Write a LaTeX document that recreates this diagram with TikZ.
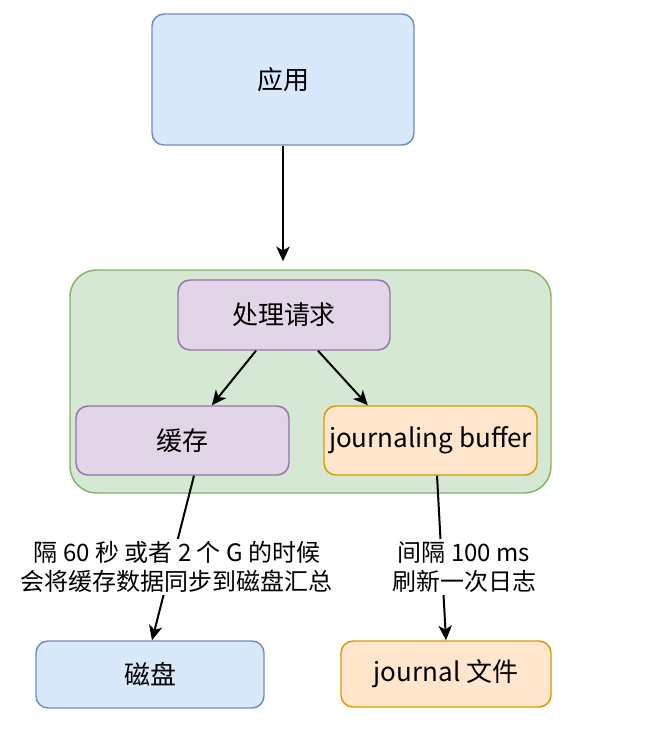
\documentclass[tikz,border=0pt]{standalone}
\usepackage{fontspec}
\setmainfont{Noto Sans CJK SC}
\usetikzlibrary{arrows.meta}

\tikzset{every picture/.style={line width=1.1pt}}
\tikzset{
  box/.style={rounded corners=9pt, align=center, font=\fontsize{19.5}{23}\selectfont, inner sep=0pt},
  bluebox/.style={box, draw={rgb, 255:red, 108; green, 142; blue, 191 }, fill={rgb, 255:red, 218; green, 232; blue, 252 }},
  purplebox/.style={box, draw={rgb, 255:red, 150; green, 115; blue, 166 }, fill={rgb, 255:red, 225; green, 213; blue, 231 }},
  orangebox/.style={box, draw={rgb, 255:red, 215; green, 155; blue, 0 }, fill={rgb, 255:red, 255; green, 230; blue, 204 }},
  greenbox/.style={rounded corners=20pt, draw={rgb, 255:red, 130; green, 179; blue, 102 }, fill={rgb, 255:red, 213; green, 232; blue, 212 }, inner sep=0pt},
  edgelabel/.style={fill=white, align=center, inner sep=2pt, font=\fontsize{18}{21.75}\selectfont},
  arrow/.style={line width=1.5pt, -{Stealth[length=11pt,width=10pt,inset=3pt]}}
}

\begin{document}
\begin{tikzpicture}[x=0.75pt,y=0.75pt,yscale=-1,xscale=1]
		\useasboundingbox (0,0) rectangle (648,744);

		\node [greenbox, minimum width=360.75pt, minimum height=167.25pt] (group) at (310.5,381.5) {};
		\node [bluebox, minimum width=196.5pt, minimum height=98.25pt] (app) at (283,79.5) {应用};
		\node [purplebox, minimum width=159pt, minimum height=52.5pt] (proc) at (284,315) {处理请求};
		\node [purplebox, minimum width=159.75pt, minimum height=51.75pt] (cache) at (182.5,440.5) {缓存};
		\node [orangebox, minimum width=159.75pt, minimum height=51.75pt] (jbuf) at (430.5,440.5) {journaling buffer};
		\node [bluebox, minimum width=171pt, minimum height=50.25pt] (disk) at (150,674.5) {磁盘};
		\node [orangebox, minimum width=157.5pt, minimum height=49.5pt] (jfile) at (446,674) {journal 文件};

		\draw [arrow, shorten >=6pt] (app.south) -- (app.south |- group.north);
		\draw [arrow] ([xshift=-21pt]proc.south) -- ([xshift=22pt]cache.north);
		\draw [arrow] ([xshift=25.5pt]proc.south) -- ([xshift=-47pt]jbuf.north);
		\draw [arrow] ([xshift=8.6pt]cache.south) -- ([xshift=1.5pt]disk.north);
		\draw [arrow] ([xshift=4.9pt]jbuf.south) -- (jfile.north);

		\node [edgelabel] (flushdisk) at (177,567) {隔 60 秒 或者 2 个 G 的时候\\会将缓存数据同步到磁盘汇总};
		\node [edgelabel] (flushlog) at (464,567) {间隔 100 ms\\刷新一次日志};

\end{tikzpicture}
\end{document}
